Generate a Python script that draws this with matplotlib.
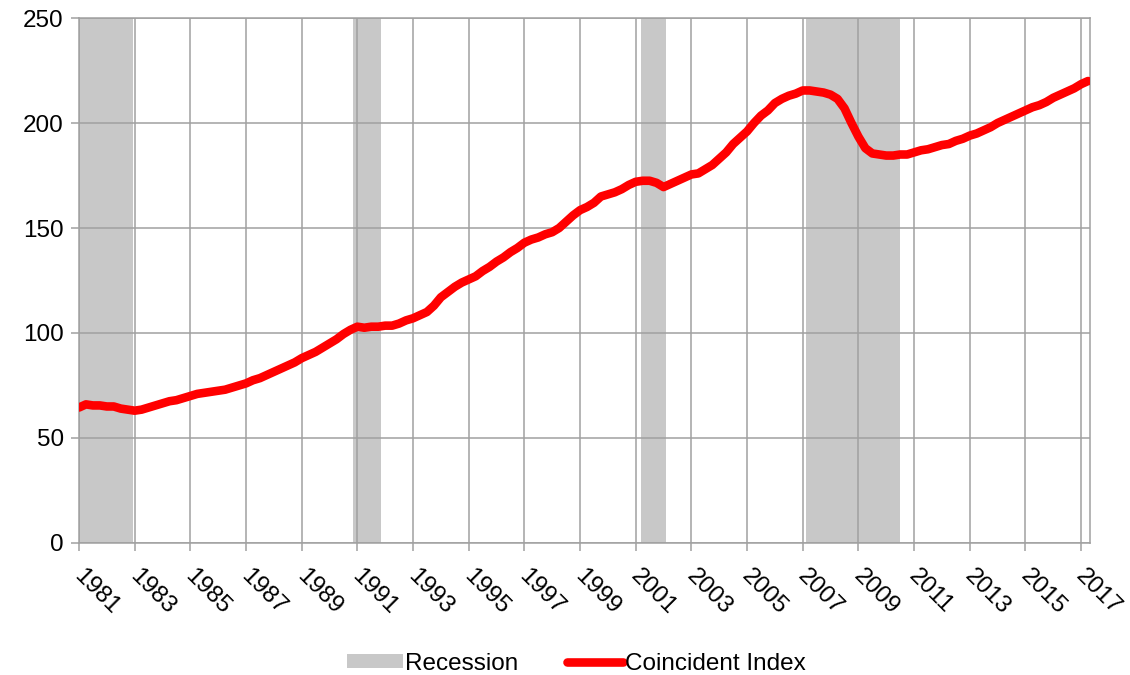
import numpy as np
import matplotlib.pyplot as plt
import matplotlib.transforms as mtransforms
from matplotlib.patches import Patch
from matplotlib.lines import Line2D

plt.rcParams['font.family'] = ['Liberation Sans', 'DejaVu Sans']

# quarterly values, starting 1981 Q1
start_year = 1981
index_vals = [
    64.5, 66, 65.5, 65.5,      # 1981
    65, 65, 64, 63.5,          # 1982
    63, 63.5, 64.5, 65.5,      # 1983
    66.5, 67.5, 68, 69,        # 1984
    70, 71, 71.5, 72,          # 1985
    72.5, 73, 74, 75,          # 1986
    76, 77.5, 78.5, 80,        # 1987
    81.5, 83, 84.5, 86,        # 1988
    88, 89.5, 91, 93,          # 1989
    95, 97, 99.5, 101.5,       # 1990
    103, 102.5, 103, 103,      # 1991
    103.5, 103.5, 104.5, 106,  # 1992
    107, 108.5, 110, 113,      # 1993
    117, 119.5, 122, 124,      # 1994
    125.5, 127, 129.5, 131.5,  # 1995
    134, 136, 138.5, 140.5,    # 1996
    143, 144.5, 145.5, 147,    # 1997
    148, 150, 153, 156,        # 1998
    158.5, 160, 162, 165,      # 1999
    166, 167, 168.5, 170.5,    # 2000
    172, 172.5, 172.5, 171.5,  # 2001
    169.5, 171, 172.5, 174,    # 2002
    175.5, 176, 178, 180,      # 2003
    183, 186, 190, 193,        # 2004
    196, 200, 203.5, 206,      # 2005
    209.5, 211.5, 213, 214,    # 2006
    215.5, 215.5, 215, 214.5,  # 2007
    213.5, 211.5, 207, 200,    # 2008
    193.5, 188, 185.5, 185,    # 2009
    184.5, 184.5, 185, 185,    # 2010
    186, 187, 187.5, 188.5,    # 2011
    189.5, 190, 191.5, 192.5,  # 2012
    194, 195, 196.5, 198,      # 2013
    200, 201.5, 203, 204.5,    # 2014
    206, 207.5, 208.5, 210,    # 2015
    212, 213.5, 215, 216.5,    # 2016
    218.5, 220,                # 2017
]

# recession periods (start, end) in decimal years
rec_start = [1981.0, 1990.86, 2001.18, 2007.1]
rec_end = [1982.95, 1991.85, 2002.09, 2010.5]

years = start_year + np.arange(len(index_vals)) / 4.0
tick_years = list(range(1981, 2018, 2))

fig = plt.figure(figsize=(11.3, 6.75), dpi=100)
ax = fig.add_axes([0.0699, 0.1956, 0.8947, 0.7777])

for s, e in zip(rec_start, rec_end):
    ax.axvspan(s, e, color='#c8c8c8', lw=0, zorder=1)

ax.plot(years, index_vals, color='#ff0000', lw=6.2, solid_capstyle='round',
        solid_joinstyle='round', zorder=3)

ax.set_xlim(1981, 2017.32)
ax.set_ylim(0, 250)
ax.set_yticks([0, 50, 100, 150, 200, 250])
ax.set_xticks(tick_years)
ax.set_xticklabels([str(y) for y in tick_years], rotation=-45, ha='left',
                   va='top', rotation_mode='anchor')

ax.grid(True, color='#a0a0a0', lw=1.1, zorder=1.5)
for sp in ax.spines.values():
    sp.set_color('#a0a0a0')
    sp.set_linewidth(1.1)
ax.tick_params(axis='both', colors='#a0a0a0', labelcolor='black', length=6,
               width=1.1, labelsize=17.5)
ax.tick_params(axis='x', pad=10)
ax.tick_params(axis='y', pad=5)

# nudge the rotated year labels a little to the right
shift = mtransforms.ScaledTranslation(6 / 100, 0, fig.dpi_scale_trans)
for lab in ax.get_xticklabels():
    lab.set_transform(lab.get_transform() + shift)

handles = [Patch(facecolor='#c8c8c8', edgecolor='none', label='Recession'),
           Line2D([0], [0], color='#ff0000', lw=6.2, solid_capstyle='round',
                  label='Coincident Index')]
fig.legend(handles=handles, loc='lower center', bbox_to_anchor=(0.51, -0.032),
           ncol=2, frameon=False, fontsize=17.5, handlelength=2.3,
           handleheight=0.55, handletextpad=0.1, columnspacing=2.0)

fig.savefig('out.png', dpi=100)
